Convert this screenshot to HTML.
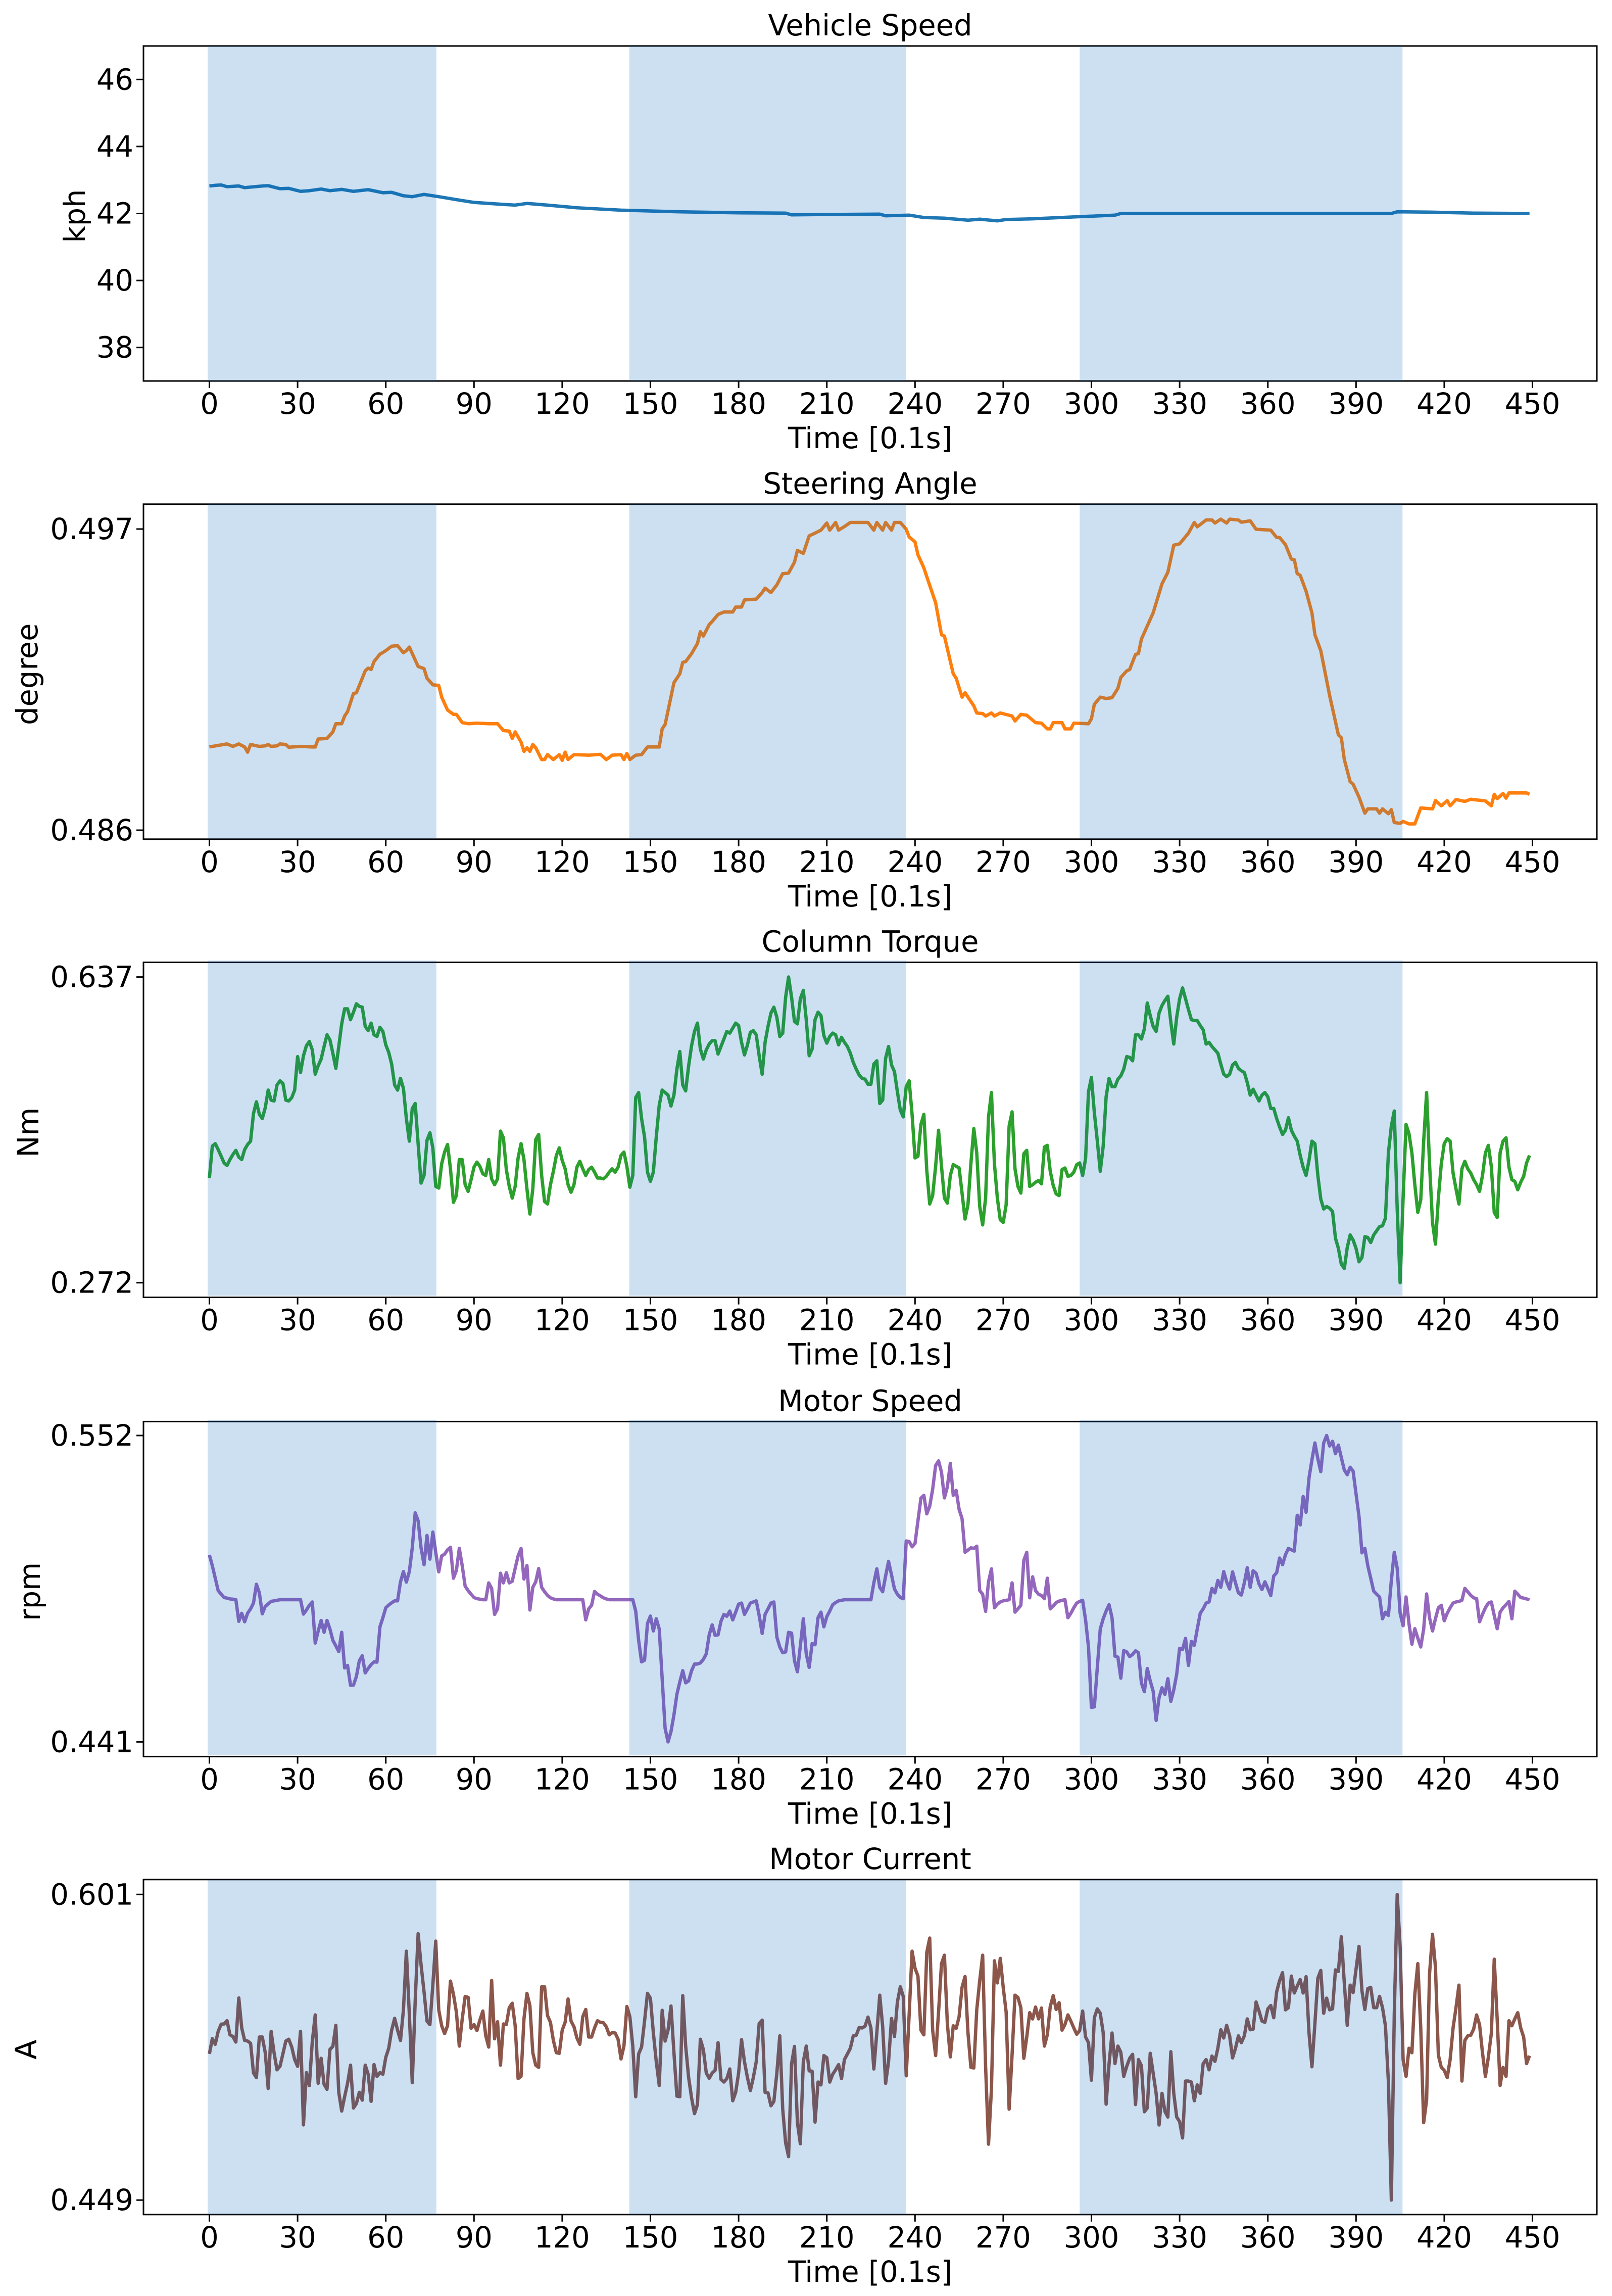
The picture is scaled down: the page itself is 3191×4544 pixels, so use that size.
<!DOCTYPE html>
<html lang="en">
<head>
<meta charset="utf-8">
<title>Vehicle signals over time</title>
<style>
html,body{margin:0;padding:0;background:#fff;}
svg{display:block;}
text{font-family:"DejaVu Sans","Liberation Sans",sans-serif;fill:#000;}
</style>
</head>
<body>
<svg id="figure" xmlns="http://www.w3.org/2000/svg" width="3191" height="4544" viewBox="0 0 3191 4544"></svg>
<script>
const xTicks = [0,30,60,90,120,150,180,210,240,270,300,330,360,390,420,450];
const xLim = [-22.42,471.9];
const spanStarts = [-0.6,142.8,296];
const spanEnds = [77.2,236.9,405.8];

const speedTimes = [0,2,4,6,10,12,18,20,24,27,31,34,38,41,45,49,54,59,62,66,69,73,78,85,90,100,104,108,115,125,140,160,180,196,198,210,228,230,238,243,250,258,262,268,271,280,295,308,310,330,360,402,404,415,430,449];
const speedValues = [42.82,42.84,42.85,42.8,42.82,42.77,42.82,42.83,42.74,42.75,42.66,42.68,42.73,42.68,42.72,42.66,42.71,42.62,42.63,42.53,42.5,42.57,42.5,42.4,42.33,42.27,42.25,42.3,42.25,42.17,42.1,42.05,42.02,42.01,41.96,41.97,41.98,41.93,41.95,41.88,41.86,41.8,41.83,41.78,41.82,41.84,41.9,41.95,42,42,42,42,42.05,42.04,42.01,42];
const speedTicks = [38,40,42,44,46];
const speedTickLabels = ["38","40","42","44","46"];
const speedLim = [37,47];

const steeringTimes = [0,6,8,10,12,13,14,17,19,20,21,23,24,26,27,31,35,36,37,40,42,43,45,46,47,49,50,53,54,55,56,58,59,60,62,64,66,67,68,69,71,73,74,76,78,79,81,83,84,86,88,91,95,98,100,102,103,104,106,107,108,109,110,111,113,114,115,117,119,120,121,122,124,129,133,135,137,140,141,142,143,145,147,149,153,154,155,158,160,161,162,164,166,167,168,170,171,173,175,178,179,181,182,186,188,189,191,193,195,197,199,200,202,204,206,208,210,211,213,214,216,218,224,226,227,229,230,232,233,235,237,238,240,241,243,245,247,249,250,253,254,256,257,260,261,263,264,266,267,269,273,274,276,278,281,283,285,286,287,290,291,293,294,299,300,301,303,305,307,309,310,312,313,315,316,317,321,324,326,328,330,333,335,336,339,341,342,344,346,347,350,351,354,356,361,363,364,366,368,369,370,371,373,375,376,378,381,382,384,385,386,388,389,391,393,394,397,398,399,401,402,403,405,406,408,410,412,416,417,419,421,422,424,427,429,434,436,437,438,440,441,442,448,449];
const steeringValues = [.48904,.48915,.48906,.48915,.48904,.48885,.48913,.48906,.48908,.48913,.48906,.48908,.48915,.48913,.48903,.48906,.48904,.48904,.48933,.48935,.48959,.48989,.48989,.49017,.49033,.49099,.49102,.49182,.49192,.49187,.49216,.49243,.49249,.49256,.49272,.49274,.49248,.49256,.49269,.49245,.49198,.49190,.49155,.49131,.49129,.49086,.49039,.49023,.49023,.48993,.48989,.48991,.48989,.48989,.48964,.48962,.48935,.48959,.48922,.48888,.48901,.48888,.48913,.48901,.48858,.48858,.48876,.48858,.48876,.48855,.48885,.48858,.48876,.48874,.48877,.48858,.48874,.48876,.48858,.48880,.48858,.48874,.48876,.48904,.48904,.48970,.48986,.49139,.49171,.49213,.49216,.49245,.49282,.49325,.49309,.49351,.49362,.49388,.49397,.49397,.49415,.49415,.49441,.49444,.49468,.49484,.49468,.49496,.49537,.49539,.49579,.49622,.49611,.49675,.49685,.49696,.49722,.49696,.49724,.49696,.49709,.49724,.49724,.49696,.49724,.49696,.49724,.49696,.49724,.49724,.49699,.49671,.49653,.49606,.49558,.49494,.49431,.49314,.49309,.49171,.49155,.49086,.49102,.49054,.49028,.49026,.49017,.49028,.49017,.49028,.49017,.48999,.49023,.49020,.48993,.48991,.48970,.48970,.48993,.48993,.48970,.48970,.48991,.48989,.49007,.49060,.49086,.49081,.49084,.49118,.49158,.49182,.49187,.49242,.49245,.49298,.49394,.49500,.49542,.49641,.49646,.49685,.49724,.49708,.49733,.49733,.49722,.49736,.49722,.49736,.49733,.49725,.49730,.49699,.49696,.49669,.49669,.49643,.49590,.49588,.49537,.49531,.49473,.49394,.49314,.49256,.49092,.49044,.48948,.48938,.48858,.48777,.48768,.48721,.48662,.48678,.48678,.48662,.48678,.48660,.48675,.48628,.48625,.48632,.48623,.48623,.48681,.48678,.48708,.48689,.48708,.48689,.48712,.48705,.48713,.48707,.48689,.48731,.48715,.48734,.48717,.48736,.48736,.48731];
const steeringTicks = [.486,.497];
const steeringTickLabels = ["0.486","0.497"];
const steeringLim = [.485672,.497908];

const torqueValues = [
.397,.435,.438,.431,.423,.415,.412,.419,.425,.430,
.422,.419,.431,.437,.441,.474,.488,.473,.468,.481,
.502,.490,.489,.508,.513,.510,.490,.489,.493,.502,
.542,.523,.543,.555,.560,.550,.521,.531,.539,.554,
.568,.562,.546,.528,.554,.581,.599,.599,.586,.595,
.605,.602,.601,.578,.573,.582,.568,.566,.577,.572,
.556,.547,.533,.508,.502,.516,.504,.468,.441,.480,
.486,.438,.391,.400,.442,.451,.433,.387,.385,.414,
.428,.437,.408,.368,.376,.419,.419,.389,.381,.395,
.410,.416,.411,.402,.400,.419,.396,.389,.396,.453,
.445,.407,.387,.373,.387,.421,.438,.419,.384,.354,
.384,.443,.449,.400,.369,.366,.389,.405,.424,.433,
.418,.408,.389,.380,.389,.410,.417,.408,.400,.407,
.410,.404,.397,.397,.396,.399,.404,.408,.404,.410,
.424,.428,.411,.386,.400,.493,.499,.468,.446,.404,
.393,.404,.446,.484,.502,.499,.496,.483,.496,.527,
.548,.508,.501,.531,.555,.572,.582,.551,.539,.550,
.557,.561,.561,.545,.554,.563,.572,.570,.576,.582,
.579,.559,.544,.556,.571,.573,.568,.543,.521,.559,
.578,.594,.601,.589,.566,.570,.613,.637,.613,.584,
.581,.611,.621,.586,.543,.551,.586,.595,.591,.567,
.558,.566,.570,.568,.556,.565,.559,.554,.546,.535,
.527,.520,.516,.515,.509,.509,.533,.537,.486,.490,
.540,.554,.532,.524,.500,.478,.470,.506,.513,.473,
.421,.423,.461,.473,.406,.366,.376,.411,.454,.411,
.373,.367,.400,.413,.411,.409,.379,.348,.365,.414,
.456,.427,.363,.341,.373,.470,.499,.414,.373,.347,
.344,.365,.459,.476,.408,.387,.379,.426,.430,.387,
.389,.392,.394,.390,.434,.436,.405,.388,.378,.376,
.407,.409,.399,.400,.404,.413,.415,.400,.420,.500,
.517,.475,.441,.405,.435,.494,.516,.506,.506,.515,
.519,.527,.542,.541,.537,.568,.568,.563,.575,.606,
.591,.578,.572,.594,.603,.609,.614,.583,.557,.589,
.611,.624,.611,.598,.586,.585,.585,.579,.574,.557,
.559,.554,.550,.546,.533,.521,.518,.521,.532,.535,
.528,.525,.523,.511,.496,.503,.496,.489,.496,.499,
.494,.480,.480,.468,.458,.449,.454,.469,.454,.447,
.441,.424,.410,.400,.418,.441,.438,.400,.372,.360,
.363,.361,.357,.325,.313,.294,.289,.314,.329,.323,
.313,.297,.302,.327,.326,.320,.329,.334,.339,.340,
.349,.427,.459,.477,.360,.272,.373,.461,.450,.427,
.389,.356,.371,.441,.499,.414,.344,.318,.373,.414,
.438,.444,.441,.403,.384,.366,.408,.417,.408,.403,
.395,.389,.381,.400,.427,.436,.411,.356,.350,.427,
.441,.445,.410,.395,.393,.383,.392,.399,.415,.424];
const torqueTicks = [.272,.637];
const torqueTickLabels = ["0.272","0.637"];
const torqueLim = [.2545,.6545];

const motorSpeedValues = [
.5087,.5048,.5003,.4958,.4945,.4933,.4931,.4928,.4927,.4925,
.4847,.4876,.4845,.4876,.4892,.4913,.4981,.4950,.4874,.4901,
.4910,.4919,.4921,.4923,.4925,.4925,.4925,.4925,.4925,.4925,
.4925,.4925,.4873,.4888,.4905,.4917,.4768,.4811,.4850,.4807,
.4850,.4819,.4778,.4758,.4737,.4807,.4678,.4687,.4615,.4616,
.4647,.4704,.4722,.4660,.4676,.4690,.4700,.4699,.4827,.4860,
.4896,.4906,.4914,.4921,.4921,.4990,.5027,.4989,.5027,.5113,
.5240,.5211,.5113,.5052,.5158,.5072,.5170,.5097,.5026,.5084,
.5090,.5106,.5115,.5003,.5031,.5111,.5048,.4974,.4958,.4945,
.4933,.4929,.4927,.4925,.4925,.4986,.4966,.4872,.4892,.5021,
.4986,.5023,.4986,.4992,.5039,.5084,.5111,.5000,.5049,.4888,
.4970,.4990,.5038,.4970,.4954,.4941,.4932,.4928,.4925,.4925,
.4925,.4925,.4925,.4925,.4925,.4925,.4925,.4925,.4852,.4892,
.4905,.4955,.4945,.4939,.4932,.4928,.4925,.4925,.4925,.4925,
.4925,.4925,.4925,.4925,.4925,.4884,.4778,.4700,.4706,.4839,
.4866,.4812,.4856,.4819,.4639,.4459,.4410,.4447,.4508,.4582,
.4627,.4668,.4624,.4631,.4668,.4692,.4692,.4696,.4709,.4729,
.4798,.4834,.4796,.4798,.4847,.4872,.4865,.4884,.4852,.4880,
.4909,.4913,.4872,.4892,.4913,.4917,.4921,.4868,.4803,.4872,
.4892,.4913,.4917,.4790,.4754,.4733,.4736,.4807,.4804,.4704,
.4664,.4758,.4856,.4729,.4680,.4766,.4762,.4860,.4880,.4827,
.4864,.4884,.4907,.4915,.4921,.4923,.4925,.4925,.4925,.4925,
.4925,.4925,.4925,.4925,.4925,.4925,.4986,.5037,.4970,.4954,
.5011,.5064,.5015,.4964,.4945,.4933,.4929,.5138,.5136,.5117,
.5129,.5211,.5293,.5303,.5236,.5264,.5325,.5411,.5428,.5387,
.5294,.5334,.5419,.5303,.5321,.5252,.5219,.5097,.5105,.5113,
.5111,.5119,.4958,.4945,.4883,.4990,.5037,.4896,.4909,.4917,
.4921,.4923,.4925,.4986,.4880,.4892,.4905,.5068,.5097,.4932,
.5008,.4958,.4945,.4940,.4929,.5003,.4892,.4902,.4915,.4920,
.4923,.4925,.4860,.4876,.4896,.4913,.4919,.4923,.4852,.4754,
.4535,.4537,.4680,.4819,.4856,.4884,.4907,.4860,.4721,.4717,
.4641,.4741,.4736,.4719,.4727,.4740,.4733,.4623,.4592,.4676,
.4631,.4594,.4488,.4570,.4606,.4582,.4639,.4557,.4598,.4655,
.4749,.4745,.4785,.4687,.4774,.4760,.4819,.4876,.4892,.4913,
.4917,.4966,.4950,.4995,.4970,.5027,.4990,.4964,.5026,.4986,
.4950,.4942,.4986,.5041,.4970,.5030,.5021,.4982,.4962,.4990,
.4966,.4940,.5011,.5023,.5076,.5052,.5088,.5111,.5106,.5101,
.5231,.5196,.5299,.5242,.5366,.5432,.5493,.5436,.5389,.5493,
.552,.5482,.5499,.5454,.5485,.5440,.5395,.5378,.5405,.5391,
.5309,.5227,.5095,.5111,.5048,.5003,.4956,.4945,.4935,.4856,
.4880,.4868,.4995,.5097,.5039,.4876,.4831,.4935,.4839,.4764,
.4820,.4786,.4754,.4819,.4946,.4860,.4812,.4856,.4896,.4905,
.4849,.4876,.4896,.4913,.4917,.4919,.4923,.4966,.4954,.4941,
.4932,.4929,.4845,.4872,.4896,.4913,.4917,.4868,.4820,.4880,
.4896,.4907,.4919,.4856,.4956,.4945,.4933,.4931,.4928,.4925];
const motorSpeedTicks = [.441,.552];
const motorSpeedTickLabels = ["0.441","0.552"];
const motorSpeedLim = [.43569,.55705];

const motorCurrentValues = [
.5217,.5293,.5265,.5329,.5365,.5366,.5382,.5312,.5303,.5276,
.5495,.5346,.5284,.5281,.5270,.5122,.5099,.5301,.5301,.5223,
.5045,.5329,.5223,.5138,.5155,.5217,.5281,.5290,.5251,.5189,
.5155,.5329,.4864,.5124,.5060,.5279,.5411,.5071,.5195,.5066,
.5041,.5239,.5254,.5359,.5026,.4933,.5004,.5071,.5161,.4948,
.4970,.5026,.4987,.5161,.5116,.4981,.5164,.5105,.5124,.5116,
.5200,.5245,.5335,.5394,.5335,.5284,.5436,.5728,.5413,.5074,
.5481,.5815,.5660,.5526,.5380,.5363,.5559,.5778,.5436,.5357,
.5318,.5357,.5579,.5514,.5425,.5256,.5391,.5503,.5498,.5344,
.5363,.5333,.5385,.5430,.5307,.5251,.5582,.5292,.5377,.5161,
.5366,.5363,.5447,.5469,.5357,.5094,.5105,.5391,.5518,.5458,
.5223,.5161,.5150,.5551,.5551,.5408,.5374,.5284,.5223,.5220,
.5335,.5374,.5490,.5380,.5352,.5296,.5265,.5402,.5438,.5301,
.5301,.5346,.5382,.5374,.5372,.5352,.5312,.5323,.5321,.5290,
.5192,.5256,.5453,.5402,.5256,.5004,.5217,.5251,.5380,.5518,
.5494,.5323,.5178,.5060,.5434,.5281,.5335,.5455,.5223,.5007,
.5004,.5507,.5256,.5099,.4998,.4920,.4965,.5290,.5239,.5122,
.5096,.5122,.5135,.5273,.5090,.5077,.5094,.5142,.4984,.5026,
.5122,.5288,.5178,.5099,.5035,.5099,.5178,.5368,.5385,.5026,
.5023,.4959,.4981,.5122,.5307,.4942,.4774,.4706,.5167,.5254,
.4875,.4770,.5178,.5256,.5133,.5131,.4878,.5077,.5063,.5209,
.5198,.5077,.5116,.5138,.5164,.5094,.5189,.5217,.5245,.5307,
.5310,.5348,.5346,.5355,.5400,.5346,.5142,.5323,.5509,.5352,
.5071,.5178,.5393,.5303,.5475,.5551,.5503,.5108,.5413,.5728,
.5643,.5604,.5335,.5312,.5722,.5793,.5335,.5209,.5425,.5666,
.5708,.5368,.5202,.5357,.5344,.5402,.5548,.5602,.5323,.5150,
.5147,.5436,.5582,.5708,.5155,.4768,.5043,.5680,.5570,.5692,
.5548,.5425,.4942,.5211,.5509,.5498,.5447,.5195,.5301,.5422,
.5391,.5450,.5391,.5445,.5256,.5312,.5453,.5507,.5438,.5472,
.5335,.5363,.5411,.5380,.5346,.5315,.5333,.5430,.5301,.5273,
.5086,.5397,.5441,.5419,.5323,.4967,.5167,.5321,.5169,.5256,
.5225,.5105,.5155,.5195,.5215,.4965,.5189,.5158,.4929,.4948,
.5220,.5122,.5021,.4864,.5021,.4931,.4903,.5228,.5021,.4903,
.4880,.4799,.5082,.5082,.5077,.4984,.5063,.5021,.5169,.5189,
.5138,.5206,.5180,.5245,.5337,.5296,.5359,.5307,.5197,.5245,
.5307,.5273,.5307,.5391,.5337,.5340,.5475,.5430,.5380,.5374,
.5441,.5458,.5397,.5526,.5582,.5621,.5436,.5447,.5604,.5520,
.5554,.5587,.5520,.5601,.5323,.5153,.5368,.5593,.5632,.5419,
.5494,.5436,.5441,.5635,.5627,.5800,.5570,.5359,.5559,.5522,
.5638,.5752,.5531,.5438,.5542,.5548,.5447,.5447,.5503,.5447,
.5357,.5077,.449,.5413,.601,.5750,.5189,.5105,.5245,.5223,
.5514,.5666,.5346,.4875,.4987,.5615,.5812,.5649,.5211,.5150,
.5135,.5099,.5189,.5346,.5447,.5559,.5082,.5284,.5307,.5310,
.5340,.5411,.5363,.5223,.5105,.5200,.5318,.5688,.5391,.5060,
.5150,.5105,.5382,.5357,.5391,.5422,.5346,.5301,.5169,.5208];
const motorCurrentTicks = [.449,.601];
const motorCurrentTickLabels = ["0.449","0.601"];
const motorCurrentLim = [.44181,.60841];

const indexTimes = torqueValues.map(function (_, i) { return i; });

const SVG_NS = "http://www.w3.org/2000/svg";
const figure = document.getElementById("figure");
const AXES_LEFT = 284;
const AXES_RIGHT = 3161;
const AXES_HEIGHT = 663;
const FONT_SIZE = 57.5;

function xScale(t) {
  return AXES_LEFT + (t - xLim[0]) / (xLim[1] - xLim[0]) * (AXES_RIGHT - AXES_LEFT);
}

function make(tag, parent) {
  const el = document.createElementNS(SVG_NS, tag);
  parent.appendChild(el);
  return el;
}

function drawPanel(p) {
  const slug = p.slug;
  const top = p.top;
  const bottom = top + AXES_HEIGHT;
  const yScale = function (v) {
    return bottom - (v - p.lim[0]) / (p.lim[1] - p.lim[0]) * AXES_HEIGHT;
  };

  const group = make("g", figure);
  
  

  const title = make("text", group);
  
  
  title.setAttribute("x", (AXES_LEFT + AXES_RIGHT) / 2);
  title.setAttribute("y", top - 21);
  title.setAttribute("text-anchor", "middle");
  title.setAttribute("font-size", FONT_SIZE);
  title.textContent = p.title;

  const line = make("path", group);
  
  
  let d = "";
  for (let i = 0; i < p.values.length; i++) {
    d += (i ? "L" : "M") + xScale(p.times[i]).toFixed(1) + " " + yScale(p.values[i]).toFixed(1);
  }
  line.setAttribute("d", d);
  line.setAttribute("fill", "none");
  line.setAttribute("stroke", p.color);
  line.setAttribute("stroke-width", "6.6");
  line.setAttribute("stroke-linejoin", "round");
  line.setAttribute("stroke-linecap", "butt");

  const frame = make("rect", group);
  
  
  frame.setAttribute("x", AXES_LEFT);
  frame.setAttribute("y", top);
  frame.setAttribute("width", AXES_RIGHT - AXES_LEFT);
  frame.setAttribute("height", AXES_HEIGHT);
  frame.setAttribute("fill", "none");
  frame.setAttribute("stroke", "#000");
  frame.setAttribute("stroke-width", "3");

  xTicks.forEach(function (t) {
    const tick = make("line", group);
    
    
    tick.setAttribute("x1", xScale(t));
    tick.setAttribute("x2", xScale(t));
    tick.setAttribute("y1", bottom);
    tick.setAttribute("y2", bottom + 14);
    tick.setAttribute("stroke", "#000");
    tick.setAttribute("stroke-width", "3");

    const label = make("text", group);
    
    
    label.setAttribute("x", xScale(t));
    label.setAttribute("y", bottom + 65);
    label.setAttribute("text-anchor", "middle");
    label.setAttribute("font-size", FONT_SIZE);
    label.textContent = String(t);
  });

  p.ticks.forEach(function (v, i) {
    const tick = make("line", group);
    
    
    tick.setAttribute("x1", AXES_LEFT - 14);
    tick.setAttribute("x2", AXES_LEFT);
    tick.setAttribute("y1", yScale(v));
    tick.setAttribute("y2", yScale(v));
    tick.setAttribute("stroke", "#000");
    tick.setAttribute("stroke-width", "3");

    const label = make("text", group);
    
    
    label.setAttribute("x", AXES_LEFT - 20);
    label.setAttribute("y", yScale(v) + 20);
    label.setAttribute("text-anchor", "end");
    label.setAttribute("font-size", FONT_SIZE);
    label.textContent = p.tickLabels[i];
  });

  const xTitle = make("text", group);
  
  
  xTitle.setAttribute("x", (AXES_LEFT + AXES_RIGHT) / 2);
  xTitle.setAttribute("y", bottom + 133);
  xTitle.setAttribute("text-anchor", "middle");
  xTitle.setAttribute("font-size", FONT_SIZE);
  xTitle.textContent = "Time [0.1s]";

  const yTitle = make("text", group);
  
  
  yTitle.setAttribute("transform", "translate(" + p.labelX + "," + ((top + bottom) / 2 + 5) + ") rotate(-90)");
  yTitle.setAttribute("text-anchor", "middle");
  yTitle.setAttribute("font-size", FONT_SIZE);
  yTitle.textContent = p.unit;

  spanStarts.forEach(function (s, i) {
    const span = make("rect", group);
    
    
    span.setAttribute("x", xScale(s));
    span.setAttribute("y", top + p.spanShift);
    span.setAttribute("width", xScale(spanEnds[i]) - xScale(s));
    span.setAttribute("height", AXES_HEIGHT);
    span.setAttribute("fill", "rgb(0,100,190)");
    span.setAttribute("fill-opacity", "0.2");
  });
}

drawPanel({slug:"vehicle-speed", title:"Vehicle Speed", unit:"kph", color:"#1f77b4", top:91, lim:speedLim, ticks:speedTicks, tickLabels:speedTickLabels, times:speedTimes, values:speedValues, labelX:168, spanShift:0});
drawPanel({slug:"steering-angle", title:"Steering Angle", unit:"degree", color:"#ff7f0e", top:997.8, lim:steeringLim, ticks:steeringTicks, tickLabels:steeringTickLabels, times:steeringTimes, values:steeringValues, labelX:74, spanShift:-1});
drawPanel({slug:"column-torque", title:"Column Torque", unit:"Nm", color:"#2ca02c", top:1904.6, lim:torqueLim, ticks:torqueTicks, tickLabels:torqueTickLabels, times:indexTimes, values:torqueValues, labelX:76, spanShift:-3.5});
drawPanel({slug:"motor-speed", title:"Motor Speed", unit:"rpm", color:"#9467bd", top:2813.4, lim:motorSpeedLim, ticks:motorSpeedTicks, tickLabels:motorSpeedTickLabels, times:indexTimes, values:motorSpeedValues, labelX:79, spanShift:-3.5});
drawPanel({slug:"motor-current", title:"Motor Current", unit:"A", color:"#8c564b", top:3719.8, lim:motorCurrentLim, ticks:motorCurrentTicks, tickLabels:motorCurrentTickLabels, times:indexTimes, values:motorCurrentValues, labelX:72, spanShift:0});
</script>
</body>
</html>
